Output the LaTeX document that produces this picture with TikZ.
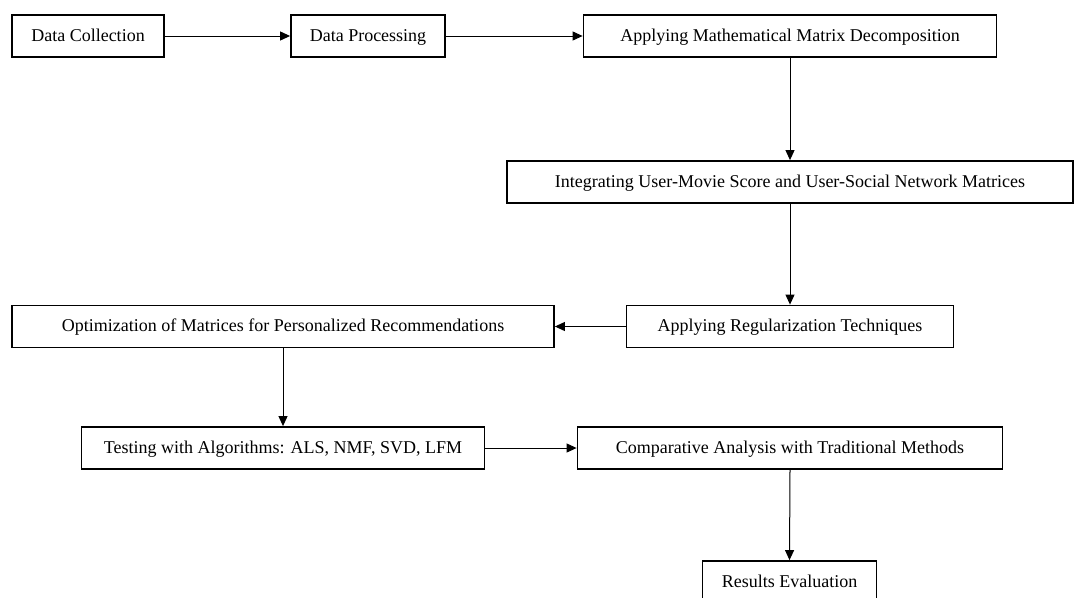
\documentclass[tikz,border=0pt]{standalone}
\usepackage{fontspec}
\setmainfont{Liberation Serif}
\usetikzlibrary{arrows.meta}
\begin{document}
\begin{tikzpicture}[x=1pt,y=-1pt,
  stepbox/.style={draw=black,line width=1.8pt,fill=white,inner sep=0pt,
    minimum height=42pt,text height=13pt,text depth=3pt,
    font=\fontsize{18}{20}\selectfont,text=black},
  conn/.style={draw=black,line width=1pt,-{Triangle[length=10pt,width=9pt]}}]
\useasboundingbox (0,0) rectangle (1075,597);
\node[stepbox,minimum width=152pt] (dc) at (88,36) {Data Collection};
\node[stepbox,minimum width=154pt] (dp) at (368,36) {Data Processing};
\node[stepbox,minimum width=413pt] (amd) at (790,36) {Applying Mathematical Matrix Decomposition};
\node[stepbox,minimum width=566pt] (int) at (790,182) {Integrating User-Movie Score and User-Social Network Matrices};
\node[stepbox,minimum width=327pt] (reg) at (790,326.5) {Applying Regularization Techniques};
\node[stepbox,minimum width=542pt] (opt) at (283,326.5) {Optimization of Matrices for Personalized Recommendations};
\node[stepbox,minimum width=403pt] (test) at (283,448) {Testing with Algorithms: ALS, NMF, SVD, LFM};
\node[stepbox,minimum width=425pt] (comp) at (790,448) {Comparative Analysis with Traditional Methods};
\node[stepbox,minimum width=174pt] (res) at (789.5,582) {Results Evaluation};
\draw[conn] (dc.east) -- (dp.west);
\draw[conn] (dp.east) -- (amd.west);
\draw[conn] (amd.south) -- (int.north);
\draw[conn] (int.south) -- (reg.north);
\draw[conn] (reg.west) -- (opt.east);
\draw[conn] (opt.south) -- (test.north);
\draw[conn] (test.east) -- (comp.west);
\draw[conn] (comp.south) -- (res.north);
\end{tikzpicture}
\end{document}
